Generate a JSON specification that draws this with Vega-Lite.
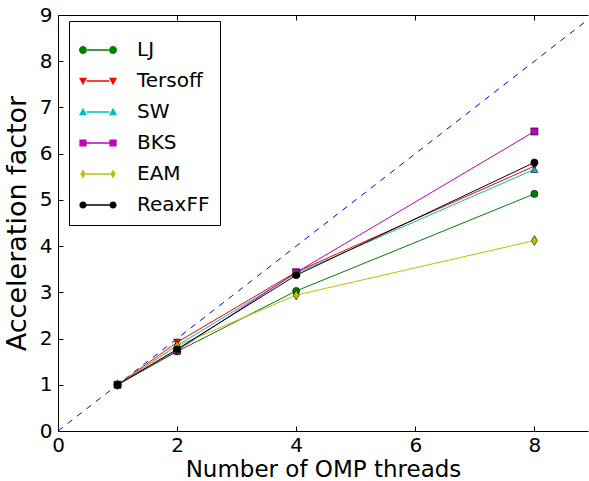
{
  "$schema": "https://vega.github.io/schema/vega-lite/v6.json",
  "width": 530,
  "height": 416,
  "autosize": {"type": "none"},
  "padding": {"left": 58, "top": 15, "right": 1, "bottom": 50},
  "config": {
    "view": {"stroke": null},
    "font": "DejaVu Sans",
    "axis": {
      "domainColor": "black", "tickColor": "black", "labelColor": "black", "titleColor": "black",
      "labelFont": "DejaVu Sans", "titleFont": "DejaVu Sans", "labelFontSize": 20,
      "titleFontWeight": "normal", "grid": false, "tickSize": -5, "domainWidth": 1, "tickWidth": 1,
      "labelFlush": false, "labelOverlap": false
    },
    "legend": {
      "title": null, "orient": "none", "legendX": 11, "legendY": 6, "padding": 10, "strokeColor": "black", "fillColor": "white", "cornerRadius": 0,
      "labelFont": "DejaVu Sans", "labelFontSize": 20, "labelColor": "black", "labelOffset": 20, "symbolSize": 1444, "rowPadding": 2,
      "symbolStrokeWidth": 0, "symbolOpacity": 1
    }
  },
  "datasets": {
    "diag": [{"x": 0, "y": 0}, {"x": 9, "y": 9}],
    "perf": [
      {"potential": "LJ", "threads": 1, "factor": 1.0},
      {"potential": "LJ", "threads": 2, "factor": 1.72},
      {"potential": "LJ", "threads": 4, "factor": 3.03},
      {"potential": "LJ", "threads": 8, "factor": 5.13},
      {"potential": "Tersoff", "threads": 1, "factor": 1.0},
      {"potential": "Tersoff", "threads": 2, "factor": 1.92},
      {"potential": "Tersoff", "threads": 4, "factor": 3.44},
      {"potential": "Tersoff", "threads": 8, "factor": 5.73},
      {"potential": "SW", "threads": 1, "factor": 1.0},
      {"potential": "SW", "threads": 2, "factor": 1.85},
      {"potential": "SW", "threads": 4, "factor": 3.41},
      {"potential": "SW", "threads": 8, "factor": 5.66},
      {"potential": "BKS", "threads": 1, "factor": 1.0},
      {"potential": "BKS", "threads": 2, "factor": 1.74},
      {"potential": "BKS", "threads": 4, "factor": 3.43},
      {"potential": "BKS", "threads": 8, "factor": 6.48},
      {"potential": "EAM", "threads": 1, "factor": 1.0},
      {"potential": "EAM", "threads": 2, "factor": 1.84},
      {"potential": "EAM", "threads": 4, "factor": 2.94},
      {"potential": "EAM", "threads": 8, "factor": 4.12},
      {"potential": "ReaxFF", "threads": 1, "factor": 1.0},
      {"potential": "ReaxFF", "threads": 2, "factor": 1.77},
      {"potential": "ReaxFF", "threads": 4, "factor": 3.37},
      {"potential": "ReaxFF", "threads": 8, "factor": 5.81}
    ]
  },
  "resolve": {"axis": {"x": "independent"}},
  "layer": [
    {
      "data": {"name": "diag"},
      "mark": {"type": "line", "color": "#0000ff", "strokeWidth": 1, "strokeDash": [6, 6], "clip": true},
      "encoding": {
        "x": {"field": "x", "type": "quantitative", "scale": {"domain": [0, 8.9], "nice": false},
              "axis": {"orient": "top", "labels": false, "title": null, "values": [0, 2, 4, 6, 8]}},
        "y": {"field": "y", "type": "quantitative", "scale": {"domain": [0, 9], "nice": false},
              "axis": {"values": [0, 1, 2, 3, 4, 5, 6, 7, 8, 9], "labelPadding": 11, "title": "Acceleration factor", "titleFontSize": 27, "titlePadding": 8}}
      }
    },
    {
      "data": {"name": "perf"},
      "encoding": {
        "x": {"field": "threads", "type": "quantitative", "scale": {"domain": [0, 8.9], "nice": false},
              "axis": {"orient": "bottom", "values": [0, 2, 4, 6, 8], "labelPadding": 9, "title": "Number of OMP threads", "titleFontSize": 23, "titlePadding": 3}},
        "y": {"field": "factor", "type": "quantitative", "scale": {"domain": [0, 9], "nice": false},
              "axis": {"values": [0, 1, 2, 3, 4, 5, 6, 7, 8, 9], "labelPadding": 11, "title": "Acceleration factor", "titleFontSize": 27, "titlePadding": 8}}
      },
      "layer": [
        {
          "transform": [{"filter": "datum.potential == 'LJ'"}],
          "mark": {"type": "line", "color": "#008000", "strokeWidth": 1, "clip": true,
                   "point": {"shape": "circle", "filled": true, "fill": "#008000", "stroke": "black", "strokeWidth": 0.6, "size": 50, "opacity": 1}}
        },
        {
          "transform": [{"filter": "datum.potential == 'Tersoff'"}],
          "mark": {"type": "line", "color": "#ff0000", "strokeWidth": 1, "clip": true,
                   "point": {"shape": "triangle-down", "filled": true, "fill": "#ff0000", "stroke": "black", "strokeWidth": 0.6, "size": 50, "opacity": 1}}
        },
        {
          "transform": [{"filter": "datum.potential == 'SW'"}],
          "mark": {"type": "line", "color": "#00bfbf", "strokeWidth": 1, "clip": true,
                   "point": {"shape": "triangle-up", "filled": true, "fill": "#00bfbf", "stroke": "black", "strokeWidth": 0.6, "size": 50, "opacity": 1}}
        },
        {
          "transform": [{"filter": "datum.potential == 'BKS'"}],
          "mark": {"type": "line", "color": "#bf00bf", "strokeWidth": 1, "clip": true,
                   "point": {"shape": "square", "filled": true, "fill": "#bf00bf", "stroke": "black", "strokeWidth": 0.6, "size": 50, "opacity": 1}}
        },
        {
          "transform": [{"filter": "datum.potential == 'EAM'"}],
          "mark": {"type": "line", "color": "#bfbf00", "strokeWidth": 1, "clip": true,
                   "point": {"shape": "M0,-1.4L0.85,0L0,1.4L-0.85,0Z", "filled": true, "fill": "#bfbf00", "stroke": "black", "strokeWidth": 0.6, "size": 50, "opacity": 1}}
        },
        {
          "transform": [{"filter": "datum.potential == 'ReaxFF'"}],
          "mark": {"type": "line", "color": "#000000", "strokeWidth": 1, "clip": true,
                   "point": {"shape": "circle", "filled": true, "fill": "#000000", "stroke": "black", "strokeWidth": 0.6, "size": 50, "opacity": 1}}
        },
        {
          "mark": {"type": "point", "filled": true, "opacity": 0, "size": 10},
          "encoding": {
            "color": {"field": "potential", "type": "nominal",
                      "scale": {"domain": ["LJ", "Tersoff", "SW", "BKS", "EAM", "ReaxFF"], "range": ["#008000", "#ff0000", "#00bfbf", "#bf00bf", "#bfbf00", "#000000"]}},
            "shape": {"field": "potential", "type": "nominal",
                      "scale": {"domain": ["LJ", "Tersoff", "SW", "BKS", "EAM", "ReaxFF"],
                                "range": [
                                  "M-0.6,-0.035h1.2v0.07h-1.2ZM-1,0a0.21,0.21 0 1,0 0.42,0a0.21,0.21 0 1,0 -0.42,0ZM0.58,0a0.21,0.21 0 1,0 0.42,0a0.21,0.21 0 1,0 -0.42,0Z",
                                  "M-0.6,-0.035h1.2v0.07h-1.2ZM-1,-0.17L-0.58,-0.17L-0.79,0.22ZM0.58,-0.17L1,-0.17L0.79,0.22Z",
                                  "M-0.6,-0.035h1.2v0.07h-1.2ZM-1,0.17L-0.58,0.17L-0.79,-0.22ZM0.58,0.17L1,0.17L0.79,-0.22Z",
                                  "M-0.6,-0.035h1.2v0.07h-1.2ZM-0.98,-0.19h0.38v0.38h-0.38ZM0.6,-0.19h0.38v0.38h-0.38Z",
                                  "M-0.65,-0.035h1.3v0.07h-1.3ZM-0.79,-0.24L-0.65,0L-0.79,0.24L-0.93,0ZM0.79,-0.24L0.93,0L0.79,0.24L0.65,0Z",
                                  "M-0.6,-0.035h1.2v0.07h-1.2ZM-0.98,0a0.19,0.19 0 1,0 0.38,0a0.19,0.19 0 1,0 -0.38,0ZM0.6,0a0.19,0.19 0 1,0 0.38,0a0.19,0.19 0 1,0 -0.38,0Z"
                                ]}}
          }
        }
      ]
    }
  ]
}
